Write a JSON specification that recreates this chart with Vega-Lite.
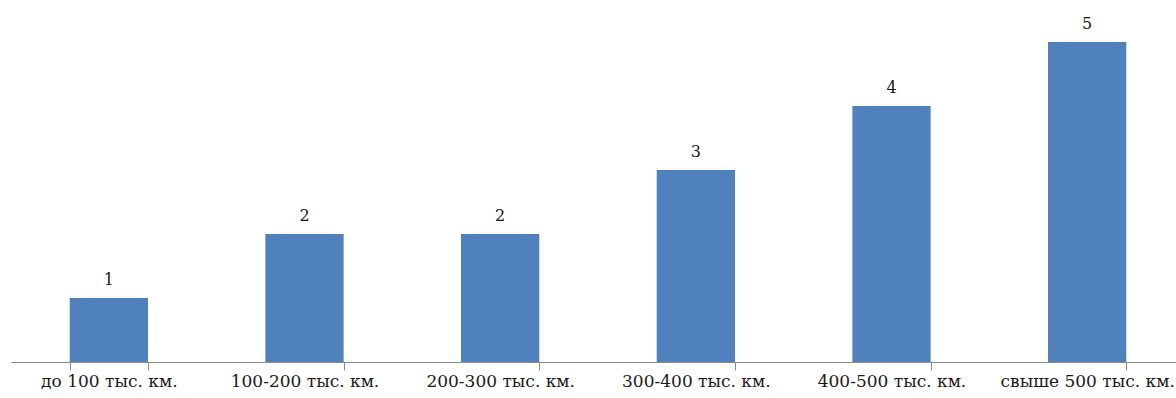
{
  "$schema": "https://vega.github.io/schema/vega-lite/v6.json",
  "width": 1165,
  "height": 362,
  "autosize": {"type": "none"},
  "padding": {"left": 11, "top": 0, "right": 0, "bottom": 36},
  "background": "white",
  "config": {"view": {"stroke": null}, "axisBand": {"ticks": true, "tickBand": "extent"}},
  "data": {
    "values": [
      {"category": "до 100 тыс. км.", "value": 1},
      {"category": "100-200 тыс. км.", "value": 2},
      {"category": "200-300 тыс. км.", "value": 2},
      {"category": "300-400 тыс. км.", "value": 3},
      {"category": "400-500 тыс. км.", "value": 4},
      {"category": "свыше 500 тыс. км.", "value": 5}
    ]
  },
  "encoding": {
    "x": {
      "field": "category",
      "type": "nominal",
      "sort": null,
      "scale": {"range": [0, 1174], "paddingInner": 0.6, "paddingOuter": 0.3},
      "axis": {
        "title": null,
        "labelAngle": 0,
        "labelFont": "DejaVu Serif",
        "labelFontSize": 17,
        "labelColor": "#1a1a1a",
        "labelPadding": 3,
        "domainColor": "#8c8c8c",
        "ticks": true,
        "tickColor": "#8c8c8c",
        "tickWidth": 1,
        "tickOpacity": 1,
        "tickSize": 8,
        "tickBand": "extent",
        "labelOverlap": false,
        "labelLimit": 0
      }
    },
    "y": {
      "field": "value",
      "type": "quantitative",
      "scale": {"domain": [0, 5.656], "nice": false},
      "axis": null
    }
  },
  "layer": [
    {"mark": {"type": "bar", "color": "#4F81BD"}},
    {
      "mark": {
        "type": "text",
        "baseline": "bottom",
        "dy": -10,
        "font": "DejaVu Serif",
        "fontSize": 16,
        "color": "#1a1a1a"
      },
      "encoding": {"text": {"field": "value", "type": "quantitative"}}
    }
  ]
}
